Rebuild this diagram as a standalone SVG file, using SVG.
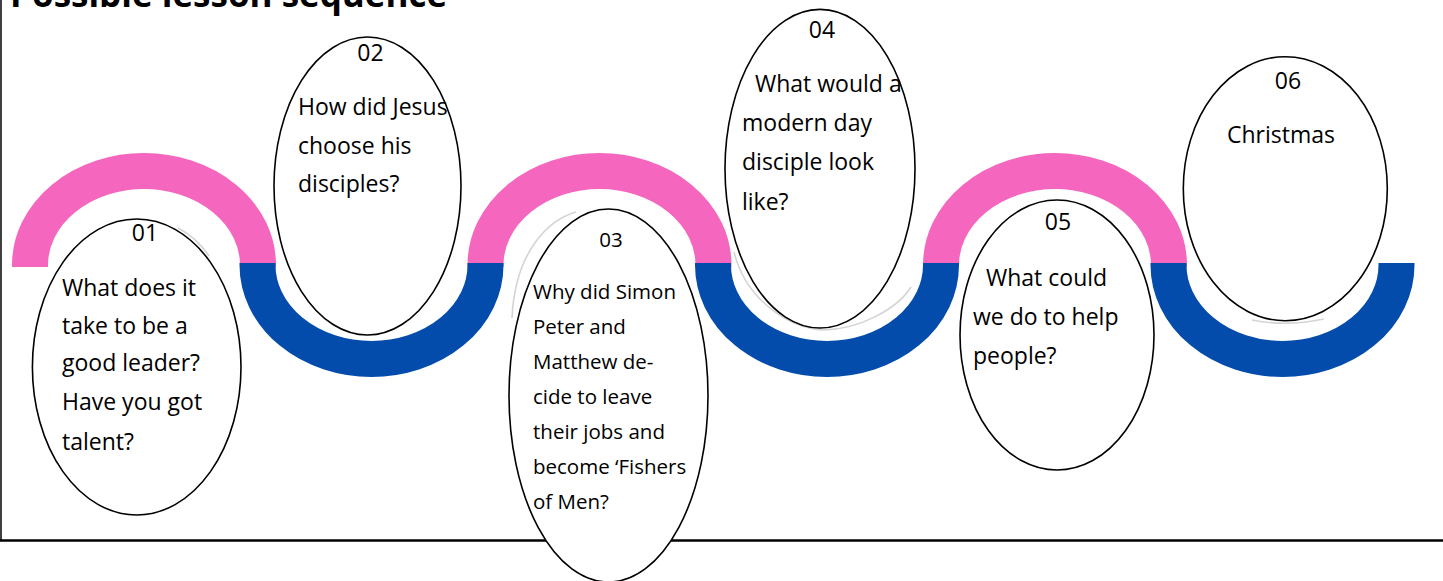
<svg xmlns="http://www.w3.org/2000/svg" width="1443" height="581" viewBox="0 0 1443 581">
<style>
.pink{fill:none;stroke:#F567BE;stroke-width:36;stroke-linecap:butt}
.blue{fill:none;stroke:#034CAC;stroke-width:36;stroke-linecap:butt}
.ghost{fill:none;stroke:#d4d4d4;stroke-width:1.6}
.node ellipse{fill:#ffffff;stroke:#000000;stroke-width:1.6}
.t{font-family:"Open Sans","Noto Sans","Liberation Sans",sans-serif;font-size:23px;fill:#000000}
.s{font-size:20.5px}
.num{text-anchor:middle}
.title{font-family:"Open Sans","Noto Sans","Liberation Sans",sans-serif;font-size:35px;font-weight:bold;fill:#000000}
</style>
<rect x="0" y="0" width="1443" height="581" fill="#ffffff"/>
<text class="title" x="10" y="7">Possible lesson sequence</text>
<g id="frame">
<line x1="1" y1="0" x2="1" y2="541" stroke="#000" stroke-width="1.5"/>
<line x1="0" y1="540.5" x2="1443" y2="540.5" stroke="#000" stroke-width="2.6"/>
</g>
<g id="connectors">
<path class="pink" d="M30 267 L30 265 A114 94 0 0 1 258 265 L258 267"/>
<path class="pink" d="M485.5 267 L485.5 265 A114 94 0 0 1 713.5 265 L713.5 267"/>
<path class="pink" d="M941 267 L941 265 A114 94 0 0 1 1169 265 L1169 267"/>
<path class="blue" d="M257.5 263 L257.5 265 A114 94 0 0 0 485.5 265 L485.5 263"/>
<path class="blue" d="M713 263 L713 265 A114 94 0 0 0 941 265 L941 263"/>
<path class="blue" d="M1168.5 263 L1168.5 265 A114 94 0 0 0 1396.5 265 L1396.5 263"/>
<path class="ghost" d="M178 228 Q196 237 209 256"/>
<path class="ghost" d="M576 212 C548 220 515 252 512 318"/>
<path class="ghost" d="M734 252 C746 300 788 327 822 330 C860 330 898 308 911 287"/>
<path class="ghost" d="M1252 320 Q1287 327 1324 319"/>
</g>
<g id="node01" class="node">
<ellipse cx="136.7" cy="367" rx="104.3" ry="148"/>
<text class="t num" x="145" y="241">01</text>
<text class="t" x="62" y="296">What does it</text>
<text class="t" x="62" y="333.5">take to be a</text>
<text class="t" x="62" y="371">good leader?</text>
<text class="t" x="62" y="410">Have you got</text>
<text class="t" x="62" y="450">talent?</text>
</g>
<g id="node02" class="node">
<ellipse cx="367.5" cy="186" rx="93.5" ry="149"/>
<text class="t num" x="370.5" y="61">02</text>
<text class="t" x="298" y="115">How did Jesus</text>
<text class="t" x="298" y="153.5">choose his</text>
<text class="t" x="298" y="192">disciples?</text>
</g>
<g id="node03" class="node">
<ellipse cx="608.5" cy="395.5" rx="99.5" ry="186.5"/>
<text class="t s num" x="611" y="247">03</text>
<text class="t s" x="533" y="299">Why did Simon</text>
<text class="t s" x="533" y="333.5">Peter and</text>
<text class="t s" x="533" y="368.5">Matthew de-</text>
<text class="t s" x="533" y="403.5">cide to leave</text>
<text class="t s" x="533" y="438.5">their jobs and</text>
<text class="t s" x="533" y="473.5">become ‘Fishers</text>
<text class="t s" x="533" y="508.5">of Men?</text>
</g>
<g id="node04" class="node">
<ellipse cx="820" cy="168.7" rx="95" ry="159.3"/>
<text class="t num" x="822" y="37.5">04</text>
<text class="t" x="755" y="91.5">What would a</text>
<text class="t" x="742" y="130.5">modern day</text>
<text class="t" x="742" y="170">disciple look</text>
<text class="t" x="742" y="210">like?</text>
</g>
<g id="node05" class="node">
<ellipse cx="1057" cy="335" rx="97" ry="135"/>
<text class="t num" x="1058" y="230">05</text>
<text class="t" x="986" y="285.5">What could</text>
<text class="t" x="973" y="324.5">we do to help</text>
<text class="t" x="973" y="363.5">people?</text>
</g>
<g id="node06" class="node">
<ellipse cx="1285.3" cy="188.7" rx="102" ry="132"/>
<text class="t num" x="1288" y="88.5">06</text>
<text class="t" x="1227" y="142.5">Christmas</text>
</g>
</svg>
